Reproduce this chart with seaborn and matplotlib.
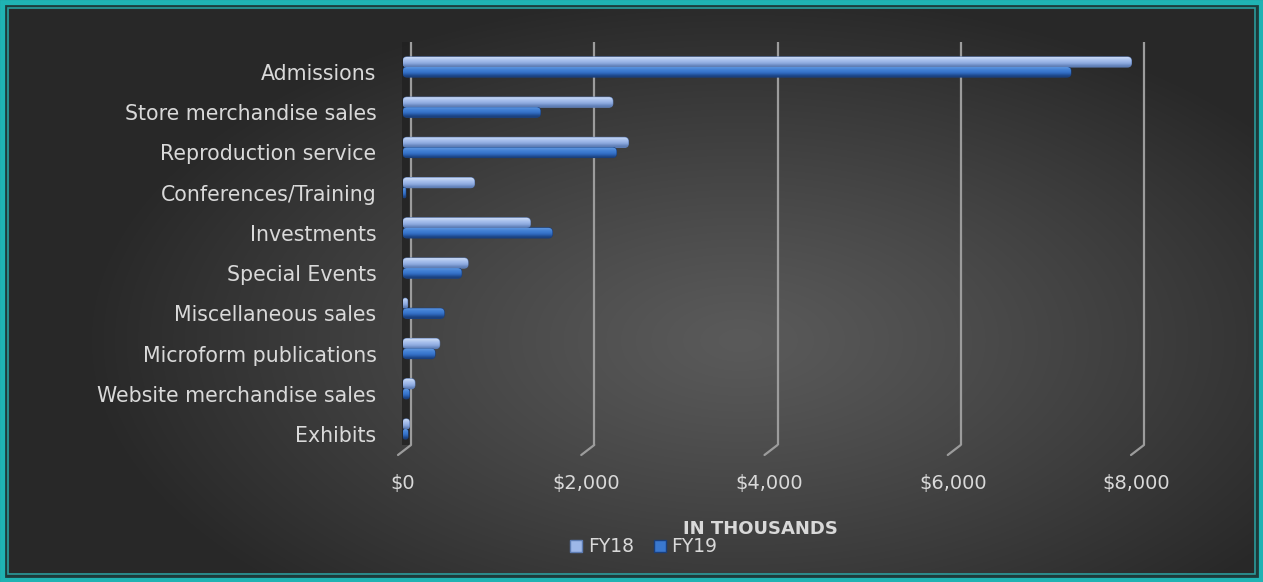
import numpy as np
import pandas as pd
import matplotlib
matplotlib.use("Agg")
import matplotlib.pyplot as plt
import matplotlib.transforms as mtransforms
from matplotlib.colors import to_rgb
from matplotlib.lines import Line2D
from matplotlib.patches import Rectangle, FancyBboxPatch
import seaborn as sns

# Revenue sources, in thousands of dollars
categories = [
    "Admissions",
    "Store merchandise sales",
    "Reproduction service",
    "Conferences/Training",
    "Investments",
    "Special Events",
    "Miscellaneous sales",
    "Microform publications",
    "Website merchandise sales",
    "Exhibits",
]
fy18 = [7950, 2290, 2460, 780, 1390, 710, 50, 400, 130, 70]
fy19 = [7290, 1500, 2330, 30, 1630, 640, 450, 350, 70, 55]
series = ["FY18", "FY19"]
x_ticks = [0, 2000, 4000, 6000, 8000]
x_tick_labels = ["$0", "$2,000", "$4,000", "$6,000", "$8,000"]

df = pd.DataFrame({
    "Category": categories * 2,
    "Value": fy18 + fy19,
    "Year": [series[0]] * len(categories) + [series[1]] * len(categories),
})

W, H = 1263, 582
DPI = 100
sns.set_theme(style="dark")
plt.rcParams["font.family"] = ["DejaVu Sans"]

fig = plt.figure(figsize=(W / DPI, H / DPI), dpi=DPI)

# ---- radial background --------------------------------------------------
bg = fig.add_axes([0, 0, 1, 1], zorder=-10)
bg.set_axis_off()
yy, xx = np.mgrid[0:H, 0:W]
d = np.sqrt(((xx - 740) / 660.0) ** 2 + ((yy - 340) / 350.0) ** 2)
t = np.clip(d, 0, 1) ** 1.15
c_in = np.array(to_rgb("#5a5a5a"))
c_out = np.array(to_rgb("#282828"))
img = c_in[None, None, :] * (1 - t[..., None]) + c_out[None, None, :] * t[..., None]
bg.imshow(img, extent=[0, W, H, 0], aspect="auto", interpolation="bilinear")
bg.set_xlim(0, W)
bg.set_ylim(H, 0)

# teal frame
teal = "#1fb3b3"
bg.add_patch(Rectangle((2.5, 2.5), W - 5, H - 5, fill=False, lw=5, ec=teal))
bg.add_patch(Rectangle((6, 6), W - 12, H - 12, fill=False, lw=2, ec="#1d3b3b"))
bg.add_patch(Rectangle((8, 8), W - 16, H - 16, fill=False, lw=1.2, ec="#2a9c9c"))

# ---- main bar axes -------------------------------------------------------
left, right, top, bottom = 403, 1150, 42, 455
ax = fig.add_axes([left / W, 1 - bottom / H, (right - left) / W, (bottom - top) / H])
ax.set_facecolor("none")

pal = {"FY18": "#9db7e8", "FY19": "#3a78cf"}
sns.barplot(data=df, y="Category", x="Value", hue="Year", order=categories,
            hue_order=series, palette=pal, orient="h", width=0.5, gap=0,
            saturation=1, ax=ax, legend=False, zorder=3)

px_per_unit_x = (1136 - 403) / 8000.0
ax.set_xlim(0, (right - left) / px_per_unit_x)
row_px = 40.2
ax.set_ylim(9 + (bottom - 429) / row_px, -(67 - top) / row_px)

# rounded, cylinder-shaded bars built on the seaborn bar geometry
shade = {
    "FY18": ["#cddcf6", "#aec6ef", "#9db7e8", "#88a6dc", "#5d7cb3"],
    "FY19": ["#6198e0", "#4482d6", "#3a78cf", "#2c64b8", "#1a3f7c"],
}
rad_px = 4.0
rx = rad_px / px_per_unit_x
ry = rad_px / row_px
n = len(categories)
for i, patch in enumerate(list(ax.patches[: 2 * n])):
    key = series[i // n]
    x0, y0 = patch.get_x(), patch.get_y()
    w, h = patch.get_width(), patch.get_height()
    patch.set_visible(False)
    r = min(rx, w / 2)
    fb = FancyBboxPatch((x0, y0), w, h,
                        boxstyle=f"round,pad=0,rounding_size={r}",
                        mutation_aspect=ry / rx,
                        facecolor=pal[key], edgecolor=shade[key][-1],
                        linewidth=0.8, zorder=3)
    ax.add_patch(fb)
    cols = np.array([to_rgb(c) for c in shade[key]])
    im = ax.imshow(cols[:, None, :], extent=[x0, x0 + w, y0 + h, y0], aspect="auto",
                   interpolation="bicubic", zorder=3.5)
    im.set_clip_path(fb)

# back-wall gridlines, each with a slanted foot toward the front plane
grid_c = "#9c9c9c"
foot = 10 / (bottom - top)
blend = mtransforms.blended_transform_factory(ax.transData, ax.transAxes)
back = mtransforms.offset_copy(blend, fig=fig, x=8, y=0, units="dots")
to_fig = fig.transFigure.inverted()
for xv in x_ticks:
    ax.plot([xv, xv], [1.0, foot], transform=back, color=grid_c, lw=1.6,
            zorder=1, solid_capstyle="butt")
    p0 = blend.transform((xv, foot))
    fa = to_fig.transform((p0[0] + 8, p0[1]))
    fbp = to_fig.transform((p0[0] - 5, p0[1] - 10))
    fig.add_artist(Line2D([fa[0], fbp[0]], [fa[1], fbp[1]], color=grid_c, lw=1.6,
                          transform=fig.transFigure, zorder=1))

# dark side wall on the left edge of the plot
wall_tr = mtransforms.blended_transform_factory(fig.transFigure, ax.transAxes)
ax.add_patch(Rectangle(((left - 1) / W, foot), 8 / W, 1 - foot, transform=wall_tr,
                       facecolor="#222222", edgecolor="none", alpha=0.85,
                       zorder=0.5, clip_on=False))

for s in ax.spines.values():
    s.set_visible(False)
ax.grid(False)

ax.set_yticks(np.arange(n) + 0.125)
ax.set_yticklabels(categories)
ax.set_xticks(x_ticks)
ax.set_xticklabels(x_tick_labels)
ax.tick_params(axis="y", length=0, pad=19, labelsize=14.8, labelcolor="#d9d9d9")
ax.tick_params(axis="x", length=0, pad=14, labelsize=14, labelcolor="#d9d9d9")
ax.set_ylabel("")
ax.set_xlabel("IN THOUSANDS", color="#d9d9d9", fontsize=13, fontweight="bold",
              va="center")
ax.xaxis.set_label_coords((760 - left) / (right - left), -(529 - bottom) / (bottom - top))

# legend beneath the axis title
handles = [Line2D([], [], marker="s", ls="none", markersize=8,
                  markerfacecolor=pal[k], markeredgecolor=shade[k][-1])
           for k in series]
fig.legend(handles, series, loc="center", bbox_to_anchor=(643 / W, 1 - 547 / H),
           ncol=2, frameon=False, fontsize=13.5, labelcolor="#d9d9d9",
           handletextpad=0.2, columnspacing=1.0, handlelength=0.8,
           borderpad=0, borderaxespad=0)

fig.savefig("out.png", dpi=DPI)
